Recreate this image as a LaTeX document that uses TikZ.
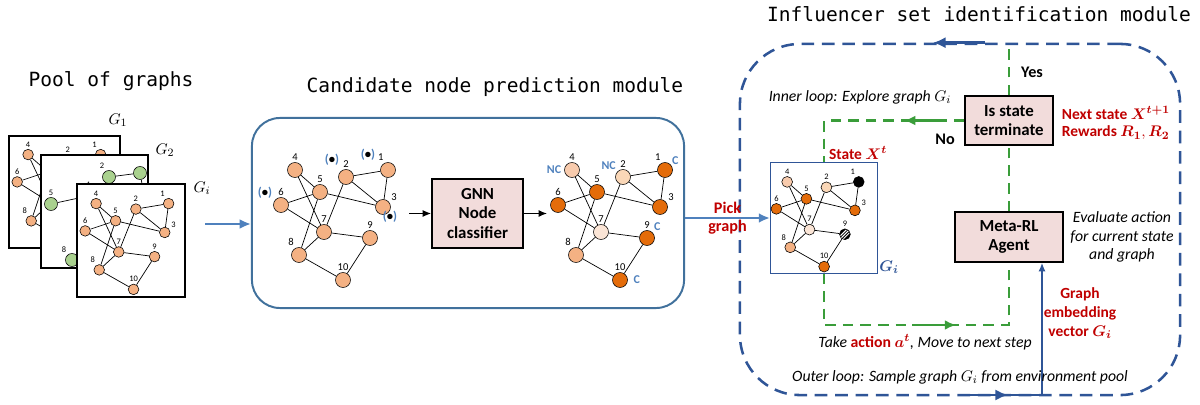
\documentclass[tikz,border=0pt]{standalone}
\usepackage{fontspec}
\setmainfont{Carlito}
\setmonofont{DejaVu Sans Mono}
\usepackage{xcolor}
\usepackage{amsmath,bm}
\usepackage{tikz}
\usetikzlibrary{arrows.meta}
\usetikzlibrary{positioning}

\definecolor{peach}{HTML}{F4B183}
\definecolor{lightpeach}{HTML}{F8CBAD}
\definecolor{palepeach}{HTML}{FAD7B7}
\definecolor{creampeach}{HTML}{FBE5D6}
\definecolor{darkor}{HTML}{E46C0A}
\definecolor{poolgreen}{HTML}{A9D18E}
\definecolor{modblue}{HTML}{41719C}
\definecolor{outerblue}{HTML}{2F5597}
\definecolor{arrowblue}{HTML}{4F81BD}
\definecolor{ncblue}{HTML}{4F81BD}
\definecolor{redtext}{HTML}{C00000}
\definecolor{loopgreen}{HTML}{3A9D3A}
\definecolor{boxpink}{HTML}{F2DCDB}

\tikzset{c1/.style={},c2/.style={},c3/.style={},c4/.style={},c5/.style={},
  c6/.style={},c7/.style={},c8/.style={},c9/.style={},c10/.style={}}

% same ten-node graph, drawn in every panel
\newcommand{\basegraph}[1]{%
  \foreach \n/\x/\y/\p in {1/388/170/110,2/346/177/90,3/383/207/35,4/295/170/90,5/320/192/90,
      6/281/205/90,7/324/232/90,8/299/255/115,9/370/238/90,10/343/280/90}
    \node[gnode,c\n,label={[glabel]\p:\n}] (#1\n) at (\x,\y) {};
  \foreach \a/\b in {4/5,4/7,2/1,2/3,1/3,5/3,6/5,6/7,5/8,7/2,7/8,7/9,9/10,8/10}
    \draw[gedge] (#1\a) -- (#1\b);
}

\begin{document}
\begin{tikzpicture}[x=0.025cm,y=-0.025cm,
  gnode/.style={circle, draw, line width=0.4pt, fill=peach, inner sep=0pt, minimum size=0.375cm},
  glabel/.style={font=\fontsize{7.5}{8}\selectfont, inner sep=1.2pt},
  gedge/.style={line width=0.5pt},
  title/.style={font=\ttfamily\fontsize{13.9}{16}\selectfont},
  gmath/.style={font=\fontsize{11}{12}\selectfont},
  poolbox/.style={draw, line width=2.1pt, fill=white},
  modbox/.style={draw=modblue, line width=1.4pt, rounded corners=0.7cm, minimum width=10.8cm, minimum height=4.75cm},
  procbox/.style={draw, line width=1.3pt, fill=boxpink, font=\bfseries\fontsize{12}{14}\selectfont, align=center},
  outerbox/.style={draw=outerblue, line width=1.8pt, dash pattern=on 9pt off 5.5pt, rounded corners=1.5cm, minimum width=11cm, minimum height=8.775cm},
  gibox/.style={draw=outerblue, line width=0.7pt, minimum width=2.675cm, minimum height=2.75cm},
  blackarrow/.style={line width=0.8pt, -{Latex[length=6pt,width=5pt]}},
  bluearrow/.style={draw=arrowblue, line width=1.6pt, -{Latex[length=8pt,width=7pt]}},
  navyarrow/.style={draw=outerblue, line width=2pt, -{Latex[length=9pt,width=8pt]}},
  embline/.style={draw=outerblue, line width=0.9pt},
  greenloop/.style={draw=loopgreen, line width=1.9pt, dash pattern=on 7.5pt off 5pt},
  greenarrow/.style={draw=loopgreen, line width=1.9pt, -{Latex[length=8pt,width=7pt]}},
  cls/.style={text=ncblue, font=\bfseries\fontsize{8.5}{9}\selectfont, inner sep=1pt},
  dotmark/.style={font=\bfseries\fontsize{9}{9}\selectfont, inner sep=0pt},
  bold/.style={font=\bfseries\fontsize{11.5}{13}\selectfont},
  redlbl/.style={text=redtext, font=\bfseries\fontsize{11}{13.5}\selectfont, align=center},
  note/.style={font=\itshape\fontsize{11.2}{13}\selectfont, align=center},
  hatch/.style={fill=black, path picture={\foreach \k in {-2.2,0,2.2}
      \draw[white, line width=0.7pt] ([shift={({\k*1pt-4pt},-4pt)}]path picture bounding box.center) -- ++(8pt,8pt);}}]

\useasboundingbox (0,0) rectangle (1200,405);

% Titles
\node[title] (tpool) at (111,81) {Pool of graphs};
\node[title] (tcand) at (495,87) {Candidate node prediction module};
\node[title] (tinfl) at (979,14) {Influencer set identification module};

% Pool of graphs
\node[poolbox, minimum width=2.775cm, minimum height=2.8cm] (pg1) at (64.5,192) {};
\begin{scope}[shift={(-202,22)}, scale=0.78, gnode/.append style={minimum size=0.265cm},
    glabel/.append style={font=\fontsize{6}{6}\selectfont}]
  \basegraph{a}
\end{scope}
\node[poolbox, minimum width=2.675cm, minimum height=2.825cm] (pg2) at (94.5,211.5) {};
\begin{scope}[gnode/.append style={fill=poolgreen, minimum size=0.325cm},
    glabel/.append style={font=\fontsize{6}{6}\selectfont}]
  \node[gnode, label={[glabel]90:5}] (b5) at (51,204) {};
  \node[gnode, label={[glabel]90:4}] (b4) at (88,196) {};
  \node[gnode, label={[glabel]115:2}] (b2) at (109,177) {};
  \node[gnode] (b1) at (140,173) {};
  \node[gnode] (b3) at (146,205) {};
  \node[gnode, label={[glabel]125:8}] (b8) at (72,260) {};
  \draw[gedge] (b5) -- (b4);
  \draw[gedge] (b2) -- (b1);
  \draw[gedge] (b1) -- (b3);
\end{scope}
\node[poolbox, minimum width=2.7cm, minimum height=2.825cm] (pgi) at (131,240.5) {};
\begin{scope}[shift={(-134,71)}, scale=0.78, gnode/.append style={minimum size=0.265cm},
    glabel/.append style={font=\fontsize{6}{6}\selectfont}]
  \basegraph{p}
\end{scope}
\node[gmath] (lg1) at (118,120) {$G_1$};
\node[gmath] (lg2) at (165,150) {$G_2$};
\node[gmath] (lgi) at (202,188) {$G_i$};

\coordinate (poolout) at (205,224);
\node[modbox] (cand) at (468,213) {};
\draw[bluearrow] (poolout) -- (poolout -| cand.west);

% Candidate node prediction module
\basegraph{cl}
\node[dotmark] (m6) at (265,193) {\textcolor{ncblue}{(}\textbullet\textcolor{ncblue}{)}};
\node[dotmark] (m2) at (332,160) {\textcolor{ncblue}{(}\textbullet\textcolor{ncblue}{)}};
\node[dotmark] (m1) at (368,155) {\textcolor{ncblue}{(}\textbullet\textcolor{ncblue}{)}};
\node[dotmark] (m3) at (390,217) {\textcolor{ncblue}{(}\textbullet\textcolor{ncblue}{)}};

\node[procbox, minimum width=2.275cm, minimum height=1.725cm] (gnn) at (477.5,213.5) {GNN\\Node\\classifier};
\draw[blackarrow] ([xshift=-0.55cm]gnn.west) -- (gnn.west);
\draw[blackarrow] (gnn.east) -- ([xshift=0.575cm]gnn.east);

\begin{scope}[shift={(277,0)}, c1/.style={fill=darkor}, c2/.style={fill=palepeach},
    c3/.style={fill=darkor}, c4/.style={fill=lightpeach}, c5/.style={fill=darkor},
    c6/.style={fill=darkor}, c7/.style={fill=creampeach}, c8/.style={fill=peach},
    c9/.style={fill=darkor}, c10/.style={fill=darkor}]
  \basegraph{cr}
\end{scope}
\node[cls, left=1pt of cr4] (nc4) {NC};
\node[cls, above left=0pt of cr2] (nc2) {NC};
\node[cls, above right=-1pt and 0pt of cr1] (cc1) {C};
\node[cls, above right=0pt of cr9] (cc9) {C};
\node[cls, right=3pt of cr10] (cc10) {C};

% Influencer set identification module
\node[outerbox] (outer) at (960,219.5) {};
\node[gibox] (gibox) at (824,218) {};
\draw[bluearrow] (cand.east |- gibox.west) -- node[text=redtext, font=\bfseries\fontsize{11.5}{13}\selectfont, align=center] (pick) {Pick\\graph} (gibox.west);

\begin{scope}[shift={(560,51)}, scale=0.77, gnode/.append style={minimum size=0.27cm},
    glabel/.append style={font=\fontsize{6}{6}\selectfont},
    c1/.style={fill=black}, c2/.style={fill=palepeach},
    c3/.style={fill=darkor}, c4/.style={fill=lightpeach}, c5/.style={fill=darkor},
    c6/.style={fill=darkor}, c7/.style={fill=creampeach}, c8/.style={fill=peach},
    c9/.style={hatch}, c10/.style={fill=darkor}]
  \basegraph{ig}
\end{scope}
\node[text=outerblue, font=\fontsize{11}{12}\selectfont] (lgib) at (889,267) {$\bm{G_i}$};
\node[redlbl] (state) at (858,153) {State $\bm{X^{t}}$};

\node[procbox, minimum width=2.2cm, minimum height=1.225cm] (term) at (1009,120.5) {Is state\\terminate};
\node[procbox, minimum width=2.7cm, minimum height=1.25cm] (meta) at (1009,237) {Meta-RL\\Agent};

\coordinate (lpbl) at (824,325);
\coordinate (lpbr) at (1009,325);
\coordinate (ytop) at (term.north |- outer.north);
\coordinate (emb) at (1042,395);

\draw[greenloop] (gibox.south) -- (lpbl) -- (lpbr) -- (meta.south);
\draw[greenloop] (meta.north) -- (term.south);
\draw[greenloop] (term.west) -| (gibox.north);
\draw[greenloop] (term.north) -- (ytop);
\draw[greenarrow] ([xshift=-0.45cm]term.west) -- ([xshift=-1.5cm]term.west);
\draw[greenarrow] ([xshift=2.2cm]lpbl) -- ([xshift=3.3cm]lpbl);

\draw[navyarrow] ([xshift=-0.6cm]ytop) -- ([xshift=-1.9cm]ytop);
\draw[embline] ([xshift=-0.85cm]emb) -- (emb);
\draw[embline, -{Latex[length=6pt,width=5pt]}] (emb) -- (emb |- meta.south);
\draw[navyarrow] ([xshift=-2cm]emb) -- ([xshift=-0.85cm]emb);

\node[bold] (yes) at (1032,72) {Yes};
\node[bold] (no) at (945,139) {No};
\node[note] (inner) at (860,97) {Inner loop: Explore graph $G_i$};
\node[redlbl, anchor=west] (next) at (1057,113) {Next state $\bm{X^{t+1}}$};
\node[redlbl, anchor=west] (rew) at (1057,133) {Rewards $\bm{R_1}, \bm{R_2}$};
\node[note] (evnote) at (1122,237) {Evaluate action\\for current state\\and graph};
\node[redlbl] (embed) at (1080,313) {Graph\\embedding\\vector $\bm{G_i}$};
\node[note] (take) at (925,342) {Take \textcolor{redtext}{\bfseries\upshape action $\bm{a^{t}}$}, Move to next step};
\node[note] (outerl) at (960,377) {Outer loop: Sample graph $G_i$ from environment pool};

\end{tikzpicture}
\end{document}
